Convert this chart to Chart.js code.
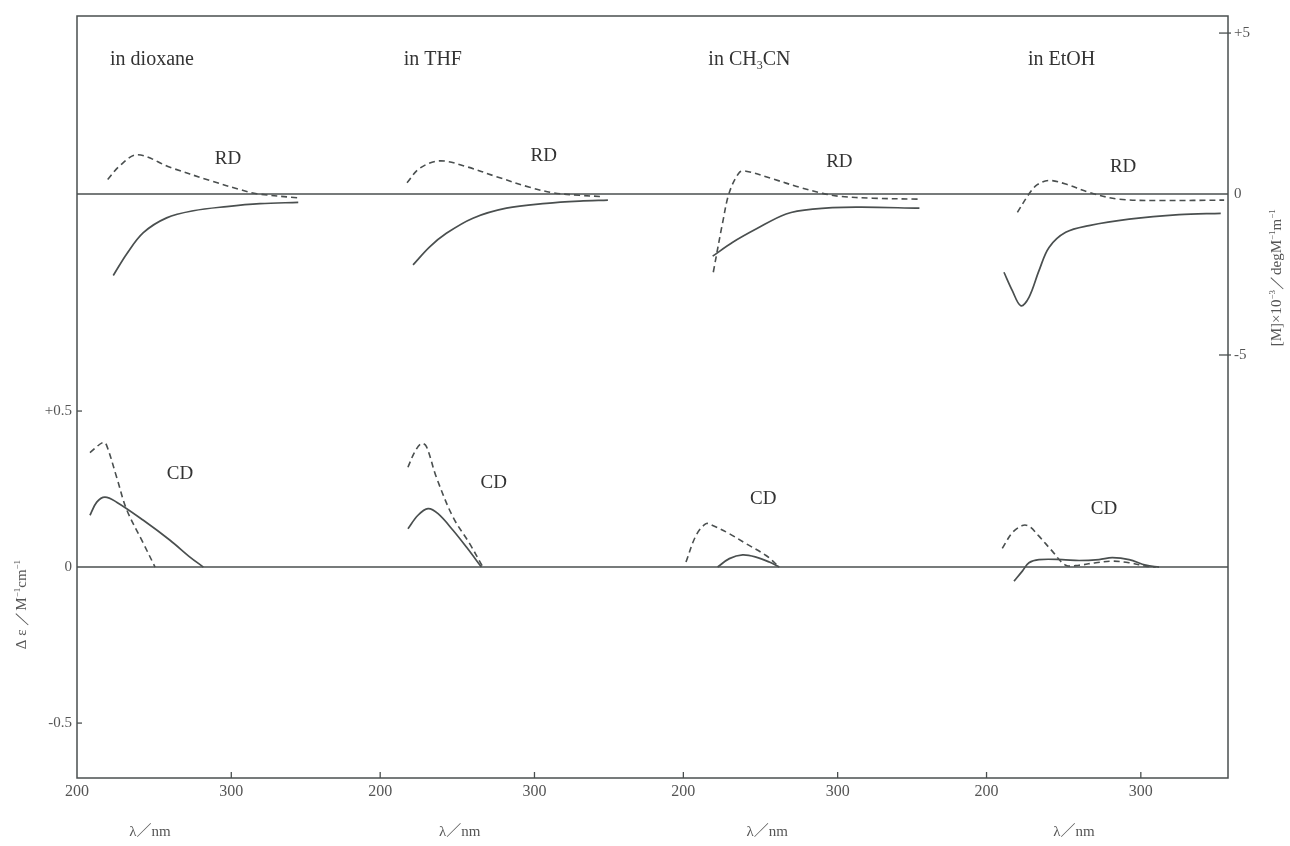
<!DOCTYPE html>
<html>
<head>
<meta charset="utf-8">
<script src="https://cdn.jsdelivr.net/npm/chart.js@4.4.1/dist/chart.umd.min.js"></script>
<style>
  html, body { margin: 0; padding: 0; background: #fff; }
  #c { display: block; }
</style>
</head>
<body>
<canvas id="c" width="1290" height="846"></canvas>
<script>
// ---- data: [wavelength nm, value] ----
// CD spectra, Δε / M^-1 cm^-1
const cdSolidDioxane = [[208.4,0.166],[212.8,0.208],[218.1,0.224],[225.7,0.208],[243,0.15],[260.3,0.086],[273.2,0.032],[281.9,0]];
const cdDashDioxane  = [[208.4,0.367],[217,0.40],[219.2,0.39],[225.7,0.288],[232.2,0.184],[243,0.076],[250.6,0]];
const cdSolidTHF     = [[218,0.123],[224.5,0.166],[231,0.187],[237.5,0.171],[247.2,0.118],[255.9,0.064],[265.6,0]];
const cdDashTHF      = [[218,0.32],[222.4,0.369],[226.7,0.396],[229.9,0.387],[236.4,0.288],[247.2,0.16],[258,0.075],[266.6,0]];
const cdSolidCH3CN   = [[222.2,0],[229.8,0.027],[238.4,0.039],[247.1,0.032],[255.7,0.016],[262.2,0]];
const cdDashCH3CN    = [[201.7,0.016],[208.2,0.101],[214.7,0.139],[219,0.133],[229.8,0.107],[240.6,0.075],[253.6,0.037],[262.2,0]];
const cdSolidEtOH    = [[217.8,-0.045],[223.2,-0.013],[227.5,0.014],[234,0.024],[249.1,0.024],[260,0.021],[272.9,0.024],[281.5,0.03],[292.4,0.024],[303.2,0.006],[311.8,0]];
const cdDashEtOH     = [[210.2,0.06],[216.7,0.11],[223.2,0.133],[227.5,0.131],[234,0.099],[242.6,0.051],[251.3,0.006],[260,0.006],[270.8,0.014],[281.5,0.019],[292.4,0.014],[303.2,0.003],[309.7,0]];

// RD spectra, [M] x 10^-3 / deg M^-1 m^-1
const rdSolidDioxane = [[223.5,-2.53],[232.2,-1.86],[243,-1.2],[258.1,-0.74],[275.4,-0.52],[297,-0.39],[318.6,-0.30],[343.4,-0.26]];
const rdDashDioxane  = [[219.9,0.45],[227.9,0.885],[239.3,1.22],[260.3,0.83],[286.2,0.42],[305.6,0.14],[316.5,0.01],[343.4,-0.12]];
const rdSolidTHF     = [[221.3,-2.2],[232.1,-1.64],[242.9,-1.22],[260.1,-0.75],[281.8,-0.44],[307.7,-0.29],[329.3,-0.22],[347.6,-0.19]];
const rdDashTHF      = [[217.4,0.35],[225.6,0.80],[238.6,1.03],[255.9,0.85],[275.3,0.54],[296.9,0.21],[312,0.04],[329.3,-0.04],[344.4,-0.08]];
const rdSolidCH3CN   = [[219,-1.93],[232,-1.5],[247.1,-1.09],[266.6,-0.62],[283.8,-0.47],[311.9,-0.41],[353,-0.44]];
const rdDashCH3CN    = [[219.4,-2.43],[225.5,-0.88],[229.8,0.05],[236.3,0.67],[240.6,0.71],[257.9,0.47],[275.2,0.21],[290.3,0.02],[301.1,-0.07],[322.7,-0.13],[353,-0.16]];
const rdSolidEtOH    = [[211.3,-2.43],[216.7,-3.0],[222.2,-3.47],[227.5,-3.21],[234,-2.38],[240.5,-1.66],[251.3,-1.19],[266.4,-0.98],[292.4,-0.78],[324.8,-0.64],[351.8,-0.6]];
const rdDashEtOH     = [[220,-0.57],[227.5,0],[232.9,0.29],[240.5,0.42],[251.3,0.31],[266.4,0.05],[285.9,-0.16],[313.9,-0.2],[354,-0.19]];

// tick values
const xTickLambda = [200, 300];
const cdTicks = [-0.5, 0, 0.5];
const rdTicks = [-5, 0, 5];

// panel titles
const solventParts = [
  [['in dioxane', 0]],
  [['in THF', 0]],
  [['in CH', 0], ['3', -1], ['CN', 0]],
  [['in EtOH', 0]]
];

// ---- layout ----
const PANEL = 196.5;          // horizontal shift (nm units) between panels
const NPANEL = 4;
const LINE = '#4a4f4f';
const TEXT = '#333';
const TICKTXT = '#555';
const SERIF = '"Liberation Serif", "DejaVu Serif", serif';

const panelCurves = [
  { cdS: cdSolidDioxane, cdD: cdDashDioxane, rdS: rdSolidDioxane, rdD: rdDashDioxane },
  { cdS: cdSolidTHF,     cdD: cdDashTHF,     rdS: rdSolidTHF,     rdD: rdDashTHF },
  { cdS: cdSolidCH3CN,   cdD: cdDashCH3CN,   rdS: rdSolidCH3CN,   rdD: rdDashCH3CN },
  { cdS: cdSolidEtOH,    cdD: cdDashEtOH,    rdS: rdSolidEtOH,    rdD: rdDashEtOH }
];

// label anchors in data coordinates (λ within panel, value)
const rdLabelAt = [[297.9,1.15],[306,1.24],[301.1,1.06],[288.5,0.90]];
const cdLabelAt = [[266.8,0.304],[273.6,0.276],[251.8,0.224],[276.1,0.192]];
const titleAt   = [221.4, 215.2, 216.2, 226.9];
const xTitleAt  = [247.3, 251.5, 254.4, 256.7];

const datasets = [];
panelCurves.forEach((p, k) => {
  const shift = k * PANEL;
  const mk = (arr, axis, dashed) => ({
    data: arr.map(([l, v]) => ({ x: l + shift, y: v })),
    yAxisID: axis,
    borderColor: LINE,
    borderWidth: dashed ? 1.6 : 1.7,
    borderDash: dashed ? [6, 4] : [],
    pointRadius: 0,
    fill: false,
    tension: 0.35
  });
  datasets.push(mk(p.cdS, 'y', false), mk(p.cdD, 'y', true), mk(p.rdS, 'y2', false), mk(p.rdD, 'y2', true));
});

const xTickValues = [];
for (let k = 0; k < NPANEL; k++) xTickLambda.forEach(l => xTickValues.push(l + k * PANEL));

function rich(ctx, parts, x, y, size, align) {
  const fonts = parts.map(([t, kind]) => (kind ? Math.round(size * 0.62) : size) + 'px ' + SERIF);
  let w = 0;
  parts.forEach(([t], i) => { ctx.font = fonts[i]; w += ctx.measureText(t).width; });
  let cx = align === 'center' ? x - w / 2 : x;
  ctx.textAlign = 'left';
  ctx.textBaseline = 'alphabetic';
  parts.forEach(([t, kind], i) => {
    ctx.font = fonts[i];
    const dy = kind === 1 ? -size * 0.4 : kind === -1 ? size * 0.18 : 0;
    ctx.fillText(t, cx, y + dy);
    cx += ctx.measureText(t).width;
  });
}

const framePlugin = {
  id: 'frame',
  beforeDatasetsDraw(chart) {
    const { ctx, chartArea: a, scales } = chart;
    const { x, y, y2 } = scales;
    ctx.save();
    ctx.strokeStyle = LINE;
    ctx.lineWidth = 1.5;
    ctx.strokeRect(a.left, a.top, a.right - a.left, a.bottom - a.top);
    // zero baselines
    ctx.lineWidth = 1.4;
    [y.getPixelForValue(0), y2.getPixelForValue(0)].forEach(py => {
      ctx.beginPath(); ctx.moveTo(a.left, py); ctx.lineTo(a.right, py); ctx.stroke();
    });
    ctx.lineWidth = 1.3;
    // x ticks (inward)
    xTickValues.forEach(v => {
      const px = x.getPixelForValue(v);
      if (px - a.left < 2) return;
      ctx.beginPath(); ctx.moveTo(px, a.bottom); ctx.lineTo(px, a.bottom - 6); ctx.stroke();
    });
    // left ticks
    cdTicks.filter(v => v !== 0).forEach(v => {
      const py = y.getPixelForValue(v);
      ctx.beginPath(); ctx.moveTo(a.left, py); ctx.lineTo(a.left + 5, py); ctx.stroke();
    });
    // right ticks
    rdTicks.filter(v => v !== 0).forEach(v => {
      const py = y2.getPixelForValue(v);
      ctx.beginPath(); ctx.moveTo(a.right - 9, py); ctx.lineTo(a.right + 3, py); ctx.stroke();
    });
    ctx.restore();
  },
  afterDraw(chart) {
    const { ctx, chartArea: a, scales } = chart;
    const { x, y, y2 } = scales;
    ctx.save();
    for (let k = 0; k < NPANEL; k++) {
      const s = k * PANEL;
      ctx.fillStyle = TEXT;
      rich(ctx, solventParts[k], x.getPixelForValue(titleAt[k] + s), a.top + 49, 20, 'left');
      rich(ctx, [['RD', 0]], x.getPixelForValue(rdLabelAt[k][0] + s), y2.getPixelForValue(rdLabelAt[k][1]) + 7, 19, 'center');
      rich(ctx, [['CD', 0]], x.getPixelForValue(cdLabelAt[k][0] + s), y.getPixelForValue(cdLabelAt[k][1]) + 7, 19, 'center');
      ctx.fillStyle = TICKTXT;
      ctx.font = '15px ' + SERIF + ', "Noto Sans CJK JP"';
      ctx.textAlign = 'center';
      ctx.textBaseline = 'middle';
      ctx.fillText('λ／nm', x.getPixelForValue(xTitleAt[k] + s), a.bottom + 54);
    }
    // vertical axis titles
    ctx.fillStyle = TICKTXT;
    ctx.save();
    ctx.translate(a.left - 56, y.getPixelForValue(-0.12));
    ctx.rotate(-Math.PI / 2);
    rich(ctx, [['Δ ε ／M', 0], ['−1', 1], ['cm', 0], ['−1', 1]], 0, 5, 15, 'center');
    ctx.restore();
    ctx.save();
    ctx.translate(a.right + 48, y2.getPixelForValue(-2.6));
    ctx.rotate(-Math.PI / 2);
    rich(ctx, [['[M]×10', 0], ['−3', 1], ['／degM', 0], ['−1', 1], ['m', 0], ['−1', 1]], 0, 5, 15, 'center');
    ctx.restore();
    ctx.restore();
  }
};

const signed = v => (v > 0 ? '+' + v : v < 0 ? '-' + Math.abs(v) : '0');

new Chart(document.getElementById('c'), {
  type: 'line',
  data: { datasets },
  plugins: [framePlugin],
  options: {
    responsive: false,
    animation: false,
    devicePixelRatio: 1,
    layout: { padding: { top: 16, left: 0, right: 0, bottom: 0 } },
    plugins: { legend: { display: false }, tooltip: { enabled: false } },
    scales: {
      x: {
        type: 'linear',
        min: 200,
        max: 946,
        grid: { display: false, drawTicks: false },
        border: { display: false },
        afterBuildTicks: s => { s.ticks = xTickValues.map(v => ({ value: v })); },
        afterFit: s => { s.height = 68; },
        ticks: {
          autoSkip: false, maxRotation: 0, padding: 4, color: TICKTXT,
          font: { family: SERIF, size: 16 },
          callback: v => {
            const k = Math.round((v - 250) / PANEL);
            return String(Math.round(v - k * PANEL));
          }
        }
      },
      y: {
        type: 'linear', position: 'left',
        min: -0.676, max: 1.766,
        grid: { display: false, drawTicks: false },
        border: { display: false },
        afterBuildTicks: s => { s.ticks = cdTicks.map(v => ({ value: v })); },
        afterFit: s => { s.width = 77; },
        ticks: { padding: 5, color: TICKTXT, font: { family: SERIF, size: 15 }, callback: v => signed(v) }
      },
      y2: {
        type: 'linear', position: 'right',
        min: -18.14, max: 5.53,
        grid: { display: false, drawTicks: false },
        border: { display: false },
        afterBuildTicks: s => { s.ticks = rdTicks.map(v => ({ value: v })); },
        afterFit: s => { s.width = 62; },
        ticks: { padding: 6, color: TICKTXT, font: { family: SERIF, size: 15 }, callback: v => signed(v) }
      }
    }
  }
});
</script>
</body>
</html>
